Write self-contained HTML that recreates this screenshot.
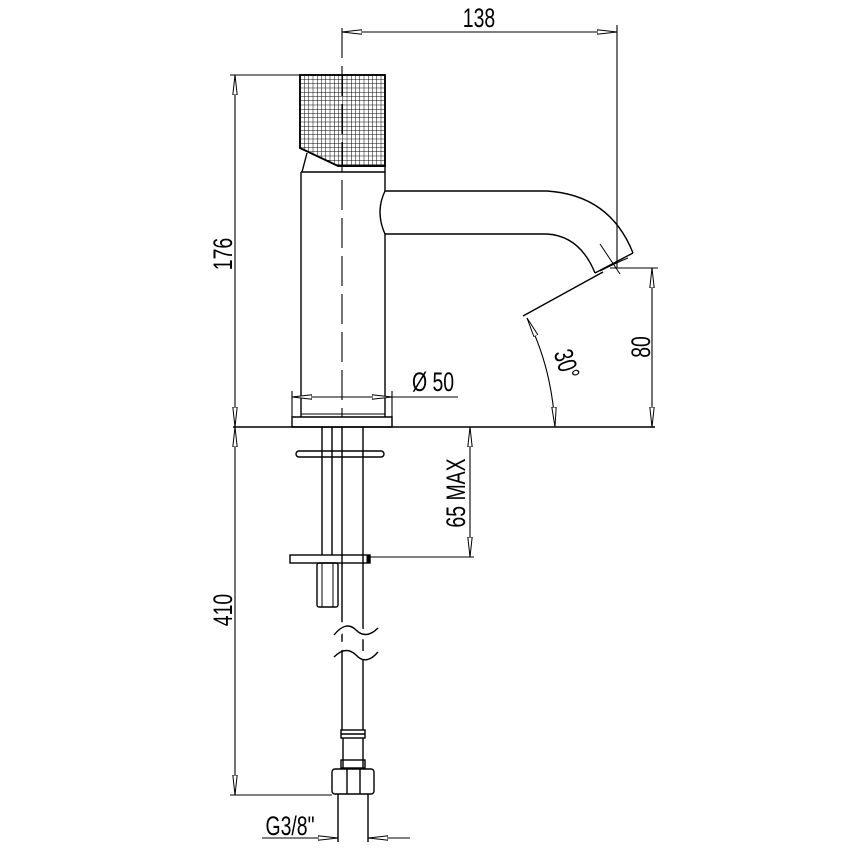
<!DOCTYPE html>
<html><head><meta charset="utf-8"><style>
html,body{margin:0;padding:0;background:#fff;width:849px;height:849px;overflow:hidden}
text{font-family:"Liberation Sans",sans-serif;font-size:27px;fill:#000}
</style></head><body>
<svg width="849" height="849" viewBox="0 0 849 849" xmlns="http://www.w3.org/2000/svg">
<defs>
<pattern id="g" width="4.25" height="4.25" patternUnits="userSpaceOnUse" x="300" y="75">
<path d="M0 0H4.25M0 0V4.25" stroke="#000" stroke-width="1" fill="none"/>
</pattern>
<marker id="a" viewBox="0 0 20 6" refX="20" refY="3" markerWidth="20" markerHeight="6" markerUnits="userSpaceOnUse" orient="auto-start-reverse">
<path d="M0 0.8L20 3L0 5.2Z" fill="#fff" stroke="#000" stroke-width="1"/>
</marker>
</defs>
<g fill="none" stroke="#000" stroke-width="1.4">
<path d="M300 75H385V166H338L300 148Z" fill="url(#g)"/>
<path d="M300 75H385V166H338L300 148Z" stroke-width="1.8"/>
<path d="M307 153L302 172M338 166H385V172"/>
<path d="M301 172H385V191M385 234V417M301 172V417"/>
<path d="M385 191Q375 212 385 234"/>
<path d="M385 191H547Q610 195 633 253"/>
<path d="M385 234H547Q580 236 595 273"/>
<path d="M595 273L633 253"/>
<path d="M600 271Q618 262 628 258M600 244L620 274" stroke-width="1"/>
<path d="M292 417H392V427H292Z"/>
<path d="M301 414H385" stroke-width="1"/>
<path d="M233 427H655"/>
<path d="M342 28V417" stroke-dasharray="30 8" stroke-width="1.1"/>
<path d="M322 427V555M332 427V555M342 427V730M363 427V730"/>
<rect x="296" y="451" width="88" height="6" rx="3"/>
<rect x="290" y="555" width="80" height="8"/>
<path d="M368 555V563" stroke-width="3"/>
<rect x="317" y="563" width="21" height="44" rx="2"/>
<path d="M322 563V607M333 563V607" stroke-width="1"/>
<path d="M334 635Q346 620 356 630Q366 640 378 628" stroke="#fff" stroke-width="10"/>
<path d="M334 650Q346 640 356 652Q366 660 378 648" stroke="#fff" stroke-width="8"/>
<path d="M334 635Q346 620 356 630Q366 640 378 628"/>
<path d="M334 657Q346 645 356 655Q366 666 378 652"/>
<rect x="341" y="730" width="24" height="8"/>
<path d="M341 734H365M343 738V768M363 738V768"/>
<rect x="341" y="760" width="24" height="8"/>
<rect x="332" y="769" width="42" height="25" rx="3"/>
<path d="M347 769V794M360 769V794"/>
<path d="M338 794V842M368 794V842"/>
<path d="M342 32H617" marker-start="url(#a)" marker-end="url(#a)" stroke-width="1.1"/>
<path d="M617 25V268" stroke-width="1.1"/>
<path d="M230 75H300" stroke-width="1.1"/>
<path d="M235 75V427" marker-start="url(#a)" marker-end="url(#a)" stroke-width="1.1"/>
<path d="M235 427V795" marker-start="url(#a)" marker-end="url(#a)" stroke-width="1.1"/>
<path d="M230 795H332" stroke-width="1.1"/>
<path d="M610 268H658" stroke-width="1.1"/>
<path d="M652 268V427" marker-start="url(#a)" marker-end="url(#a)" stroke-width="1.1"/>
<path d="M292 397H392" marker-start="url(#a)" marker-end="url(#a)" stroke-width="1.1"/>
<path d="M292 391V417M392 391V427M392 397H458" stroke-width="1.1"/>
<path d="M470 427V557" marker-start="url(#a)" marker-end="url(#a)" stroke-width="1.1"/>
<path d="M370 557H474" stroke-width="1.1"/>
<path d="M603 272L523 316" stroke-width="1.4"/>
<path d="M527 318Q552 368 555 427" marker-start="url(#a)" marker-end="url(#a)" stroke-width="1.1"/>
<path d="M262 838H318" stroke-width="1.1"/>
<path d="M318 838H338" marker-end="url(#a)" stroke-width="1.1"/>
<path d="M388 838H368" marker-end="url(#a)" stroke-width="1.1"/>
<path d="M388 838H410" stroke-width="1.1"/>
</g>
<g>
<text transform="translate(479 27) scale(0.72 1)" text-anchor="middle">138</text>
<text transform="translate(232 254) rotate(-90) scale(0.72 1)" text-anchor="middle">176</text>
<text transform="translate(232 610) rotate(-90) scale(0.72 1)" text-anchor="middle">410</text>
<text transform="translate(650 347) rotate(-90) scale(0.72 1)" text-anchor="middle">80</text>
<text transform="translate(465 493) rotate(-90) scale(0.72 1)" text-anchor="middle">65 MAX</text>
<text transform="translate(558 367) rotate(72) scale(0.72 1)" text-anchor="middle">30°</text>
<text transform="translate(433 391) scale(0.72 1)" text-anchor="middle">Ø 50</text>
<text transform="translate(290 835) scale(0.72 1)" text-anchor="middle">G3/8"</text>
</g>
</svg>
</body></html>
